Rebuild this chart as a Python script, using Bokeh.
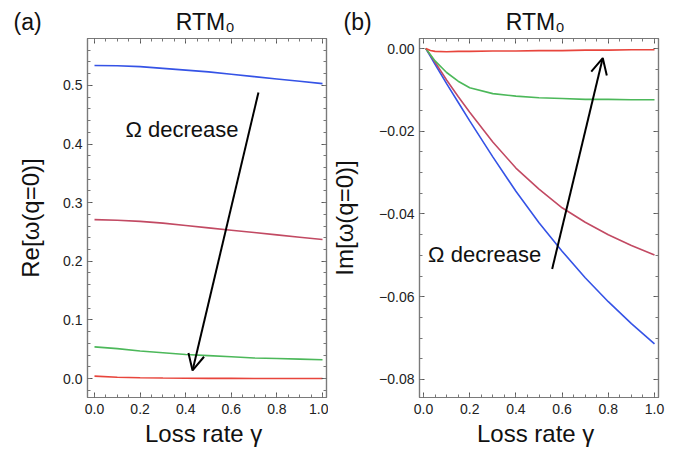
from bokeh.plotting import figure
from bokeh.layouts import row
from bokeh.models import (Range1d, LinearAxis, SingleIntervalTicker, CustomJSTickFormatter,
                          Label, Arrow, OpenHead)
from bokeh.embed import file_html
from bokeh.resources import INLINE

# ---------------- data ----------------
# panel (a): Re[omega(q=0)] vs loss rate gamma
gamma_a = [0.0, 0.1, 0.2, 0.3, 0.4, 0.5, 0.6, 0.7, 0.8, 0.9, 1.0]
re_blue = [0.534, 0.5335, 0.532, 0.529, 0.526, 0.523, 0.519, 0.515, 0.511, 0.507, 0.503]
re_crimson = [0.271, 0.270, 0.268, 0.265, 0.261, 0.257, 0.253, 0.249, 0.245, 0.241, 0.237]
re_green = [0.054, 0.051, 0.047, 0.044, 0.041, 0.039, 0.037, 0.035, 0.034, 0.033, 0.032]
re_red = [0.004, 0.0022, 0.0013, 0.0008, 0.0005, 0.0003, 0.0002, 0.0001, 0.0001, 0.0, 0.0]

# panel (b): Im[omega(q=0)] vs loss rate gamma
gamma_b = [0.01, 0.03, 0.05, 0.1, 0.15, 0.2, 0.3, 0.4, 0.5, 0.6, 0.7, 0.8, 0.9, 1.0]
im_blue = [0.0, -0.0019, -0.0038, -0.0085, -0.0130, -0.0175, -0.0262, -0.0345, -0.0421,
           -0.0490, -0.0554, -0.0612, -0.0665, -0.0714]
im_crimson = [0.0, -0.0016, -0.0033, -0.0076, -0.0116, -0.0154, -0.0226, -0.0289, -0.0340,
              -0.0385, -0.0420, -0.0450, -0.0476, -0.0499]
im_green = [0.0, -0.0015, -0.0030, -0.0058, -0.0079, -0.0095, -0.0109, -0.0115, -0.0119,
            -0.0121, -0.0123, -0.0123, -0.0124, -0.0124]
im_red = [0.0, -0.0005, -0.0007, -0.0008, -0.0007, -0.0007, -0.0006, -0.0006, -0.0005,
          -0.0005, -0.0004, -0.0004, -0.0003, -0.0003]

titles = ["RTM\u2080", "RTM\u2080"]
panel_tags = ["(a)", "(b)"]
x_label = "Loss rate  \u03b3"
y_labels = ["Re[\u03c9(q=0)]", "Im[\u03c9(q=0)]"]
annot_text = "\u03a9 decrease"

COLORS = {"blue": "#3553e6", "crimson": "#c24a63", "green": "#4cb85a", "red": "#e8453c"}
FONT = "Liberation Sans"
FRAME_COL = "#7a7a7a"
TOP, BOTTOM, HEIGHT = 38, 53, 450
GAP = "\u00a0" * 21   # spacing between panel tag and centred panel title


def fmt(decimals):
    return CustomJSTickFormatter(code="""
        const s = Math.abs(tick).toFixed(%d);
        return (tick < -1e-9 ? '\\u2212' : '') + s;
    """ % decimals)


def make_fig(xr, yr, width, bl, br, yint, yminor, ydec):
    p = figure(width=width, height=HEIGHT, x_range=Range1d(*xr), y_range=Range1d(*yr),
               output_backend="svg", toolbar_location=None,
               min_border_left=bl, min_border_right=br, min_border_top=TOP,
               min_border_bottom=BOTTOM)
    p.grid.visible = False
    p.outline_line_color = FRAME_COL
    p.outline_line_width = 1.2
    p.background_fill_color = "white"
    p.border_fill_color = "white"

    xt = SingleIntervalTicker(interval=0.2, num_minor_ticks=4)
    yt = SingleIntervalTicker(interval=yint, num_minor_ticks=yminor)

    p.add_layout(LinearAxis(), "above")
    p.add_layout(LinearAxis(), "right")
    for ax in p.xaxis:
        ax.ticker = xt
    for ax in p.yaxis:
        ax.ticker = yt
    for ax in p.axis:
        ax.axis_line_color = FRAME_COL
        ax.axis_line_width = 1.2
        ax.major_tick_in = 5
        ax.major_tick_out = 0
        ax.minor_tick_in = 3
        ax.minor_tick_out = 0
        ax.major_tick_line_color = "#555555"
        ax.minor_tick_line_color = "#777777"
        ax.major_label_text_font = FONT
        ax.major_label_text_font_size = "14px"
        ax.major_label_text_color = "#222222"
        ax.axis_label_text_font = FONT
        ax.axis_label_text_font_style = "normal"
        ax.axis_label_text_color = "#111111"
    # hide labels on top/right axes
    for ax in [p.above[0], p.right[0]]:
        ax.major_label_text_font_size = "1px"
        ax.major_label_text_color = None
        ax.major_label_standoff = 0
    bx = p.below[0]
    bx.formatter = fmt(1)
    bx.major_label_standoff = 6
    bx.axis_label = x_label
    bx.axis_label_text_font_size = "24px"
    bx.axis_label_standoff = 3
    p.left[0].formatter = fmt(ydec)
    p.left[0].major_label_standoff = 5
    return p


def decorate(p, title, tag, ylab, tagx):
    p.left[0].axis_label = ylab
    p.left[0].axis_label_text_font_size = "24px"
    p.title.text = tag + GAP + title
    p.title.align = "left"
    p.title.offset = tagx
    p.title.text_font = FONT
    p.title.text_font_size = "23px"
    p.title.text_font_style = "normal"
    p.title.text_color = "#111111"
    p.title.standoff = 7


# ---------------- panel (a) ----------------
pa = make_fig((-0.0307, 1.0175), (-0.0324, 0.580), 328, 87, 2, 0.1, 5, 1)
pa.left[0].axis_label_standoff = 16
for ys, c in [(re_blue, "blue"), (re_crimson, "crimson"), (re_green, "green"), (re_red, "red")]:
    pa.line(gamma_a, ys, line_color=COLORS[c], line_width=1.6)
decorate(pa, titles[0], panel_tags[0], y_labels[0], -74)
pa.add_layout(Label(x=0.136, y=0.425, text=annot_text, text_font=FONT, text_font_size="22px",
                    text_baseline="alphabetic", text_color="#111111"))
pa.add_layout(Arrow(end=OpenHead(size=16, line_width=2, line_color="black"),
                    x_start=0.719, y_start=0.488, x_end=0.430, y_end=0.0137,
                    line_width=2, line_color="black"))

# ---------------- panel (b) ----------------
pb = make_fig((-0.0173, 1.0173), (-0.08436, 0.00242), 350, 91, 20, 0.02, 4, 2)
pb.left[0].axis_label_standoff = 18
for ys, c in [(im_blue, "blue"), (im_crimson, "crimson"), (im_green, "green"), (im_red, "red")]:
    pb.line(gamma_b, ys, line_color=COLORS[c], line_width=1.6)
decorate(pb, titles[1], panel_tags[1], y_labels[1], -76)
pb.add_layout(Label(x=0.02, y=-0.0498, text=annot_text, text_font=FONT, text_font_size="22px",
                    text_baseline="alphabetic", text_color="#111111"))
pb.add_layout(Arrow(end=OpenHead(size=16, line_width=2, line_color="black"),
                    x_start=0.557, y_start=-0.0533, x_end=0.776, y_end=-0.0023,
                    line_width=2, line_color="black"))

layout = row(pa, pb)
with open("out.html", "w", encoding="utf-8") as f:
    f.write(file_html(layout, INLINE))
